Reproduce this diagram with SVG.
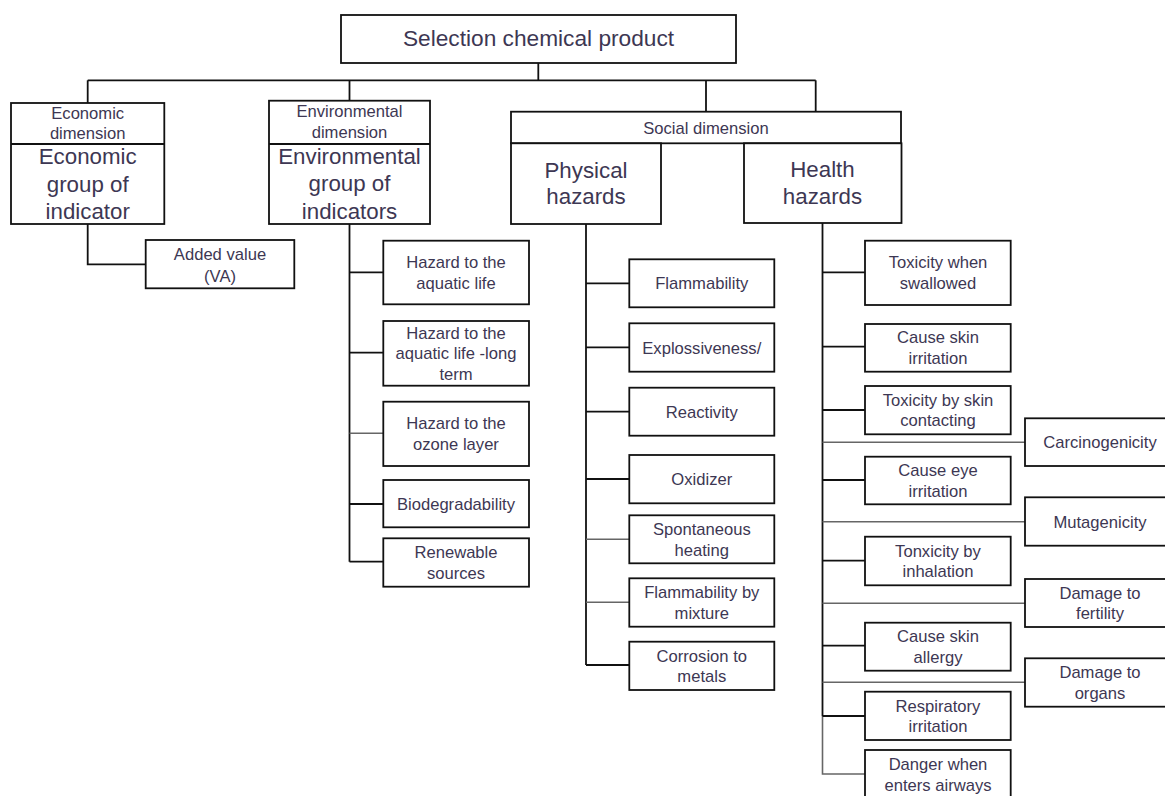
<svg xmlns="http://www.w3.org/2000/svg" width="1165" height="796" viewBox="0 0 1165 796">
<style>
rect{fill:#fff;stroke:#111;stroke-width:1.8}
line,path{stroke:#111;stroke-width:1.8;fill:none}
.g{stroke:#666;stroke-width:1.6}
text{font-family:"Liberation Sans",Arial,sans-serif;fill:#3d3753;text-anchor:middle}
.s{font-size:16.6px}
.l{font-size:22.3px}
</style>
<rect x="0" y="0" width="1165" height="796" style="stroke:none;fill:#fff"/>
<g id="connectors">
<line x1="538.3" y1="63" x2="538.3" y2="80.3"/>
<line x1="87.7" y1="80.3" x2="815.7" y2="80.3"/>
<line x1="87.7" y1="80.3" x2="87.7" y2="103"/>
<line x1="349.5" y1="80.3" x2="349.5" y2="100.7"/>
<line x1="706" y1="80.3" x2="706" y2="111.7"/>
<line x1="815.7" y1="80.3" x2="815.7" y2="111.7"/>
<path d="M87.7 224 V264.3 H145.7"/>
<line x1="349.5" y1="224" x2="349.5" y2="561.7"/>
<line x1="349.5" y1="272.3" x2="383.3" y2="272.3"/>
<line x1="349.5" y1="352.7" x2="383.3" y2="352.7"/>
<line class="g" x1="349.5" y1="433.3" x2="383.3" y2="433.3"/>
<line x1="349.5" y1="504" x2="383.3" y2="504"/>
<line x1="349.5" y1="561.7" x2="383.3" y2="561.7"/>
<line x1="586" y1="224" x2="586" y2="665"/>
<line x1="586" y1="283.3" x2="629.3" y2="283.3"/>
<line x1="586" y1="347.3" x2="629.3" y2="347.3"/>
<line x1="586" y1="411.7" x2="629.3" y2="411.7"/>
<line x1="586" y1="479" x2="629.3" y2="479"/>
<line class="g" x1="586" y1="539.3" x2="629.3" y2="539.3"/>
<line class="g" x1="586" y1="602.3" x2="629.3" y2="602.3"/>
<line x1="586" y1="665" x2="629.3" y2="665"/>
<line x1="822.5" y1="223" x2="822.5" y2="716"/>
<path class="g" d="M822.5 716 V774 H865"/>
<line x1="822.5" y1="272.3" x2="865" y2="272.3"/>
<line x1="822.5" y1="346.7" x2="865" y2="346.7"/>
<line x1="822.5" y1="410" x2="865" y2="410"/>
<line class="g" x1="822.5" y1="442.3" x2="1025" y2="442.3"/>
<line x1="822.5" y1="480" x2="865" y2="480"/>
<line class="g" x1="822.5" y1="521.7" x2="1025" y2="521.7"/>
<line x1="822.5" y1="560.7" x2="865" y2="560.7"/>
<line class="g" x1="822.5" y1="603.3" x2="1025" y2="603.3"/>
<line x1="822.5" y1="645.7" x2="865" y2="645.7"/>
<line class="g" x1="822.5" y1="682.3" x2="1025" y2="682.3"/>
<line x1="822.5" y1="716" x2="865" y2="716"/>
</g>
<g id="root">
<rect x="341" y="15" width="395" height="48"/>
<text class="l" x="538.5" y="46" style="font-size:22.7px">Selection chemical product</text>
</g>
<g id="economic">
<rect x="11" y="103" width="153.3" height="121"/>
<line x1="11" y1="144" x2="164.3" y2="144"/>
<text class="s" x="87.7" y="118.5">Economic</text>
<text class="s" x="87.7" y="138.5">dimension</text>
<text class="l" x="87.7" y="164">Economic</text>
<text class="l" x="87.7" y="191.5">group of</text>
<text class="l" x="87.7" y="219">indicator</text>
</g>
<g id="added-value">
<rect x="145.7" y="240" width="148.6" height="48.3"/>
<text class="s" x="220" y="260">Added value</text>
<text class="s" x="220" y="281.5">(VA)</text>
</g>
<g id="environmental">
<rect x="269" y="100.7" width="161" height="123.3"/>
<line x1="269" y1="144" x2="430" y2="144"/>
<text class="s" x="349.5" y="117">Environmental</text>
<text class="s" x="349.5" y="137.5">dimension</text>
<text class="l" x="349.5" y="163.5">Environmental</text>
<text class="l" x="349.5" y="191">group of</text>
<text class="l" x="349.5" y="218.5">indicators</text>
</g>
<g id="social">
<rect x="511" y="111.7" width="390" height="31.6"/>
<text class="s" x="706" y="133.5">Social dimension</text>
</g>
<g id="physical">
<rect x="511" y="143.3" width="150" height="80.7"/>
<text class="l" x="586" y="178">Physical</text>
<text class="l" x="586" y="204.3">hazards</text>
</g>
<g id="health">
<rect x="744" y="143.3" width="157.5" height="79.7"/>
<text class="l" x="822.5" y="177">Health</text>
<text class="l" x="822.5" y="203.5">hazards</text>
</g>
<g id="env1"><rect x="383.3" y="240.7" width="145.7" height="63.6"/><text class="s" x="456" y="268">Hazard to the</text><text class="s" x="456" y="288.5">aquatic life</text></g>
<g id="env2"><rect x="383.3" y="321" width="145.7" height="64.7"/><text class="s" x="456" y="338.5">Hazard to the</text><text class="s" x="456" y="359">aquatic life -long</text><text class="s" x="456" y="379.5">term</text></g>
<g id="env3"><rect x="383.3" y="401.7" width="145.7" height="64.3"/><text class="s" x="456" y="429">Hazard to the</text><text class="s" x="456" y="449.5">ozone layer</text></g>
<g id="env4"><rect x="383.3" y="480" width="145.7" height="47.3"/><text class="s" x="456" y="509.8">Biodegradability</text></g>
<g id="env5"><rect x="383.3" y="538.3" width="145.7" height="48.4"/><text class="s" x="456" y="558">Renewable</text><text class="s" x="456" y="578.5">sources</text></g>
<g id="phy1"><rect x="629.3" y="259.3" width="145" height="48"/><text class="s" x="701.8" y="289.3">Flammability</text></g>
<g id="phy2"><rect x="629.3" y="323.3" width="145" height="48.4"/><text class="s" x="701.8" y="353.5">Explossiveness/</text></g>
<g id="phy3"><rect x="629.3" y="387.7" width="145" height="48"/><text class="s" x="701.8" y="417.7">Reactivity</text></g>
<g id="phy4"><rect x="629.3" y="455" width="145" height="48.3"/><text class="s" x="701.8" y="485">Oxidizer</text></g>
<g id="phy5"><rect x="629.3" y="515.3" width="145" height="48"/><text class="s" x="701.8" y="535">Spontaneous</text><text class="s" x="701.8" y="555.5">heating</text></g>
<g id="phy6"><rect x="629.3" y="578.3" width="145" height="48.4"/><text class="s" x="701.8" y="598">Flammability by</text><text class="s" x="701.8" y="618.5">mixture</text></g>
<g id="phy7"><rect x="629.3" y="641.7" width="145" height="48.3"/><text class="s" x="701.8" y="661.5">Corrosion to</text><text class="s" x="701.8" y="682">metals</text></g>
<g id="h1"><rect x="865" y="240.7" width="145.7" height="64.3"/><text class="s" x="938" y="268">Toxicity when</text><text class="s" x="938" y="288.5">swallowed</text></g>
<g id="h2"><rect x="865" y="324" width="145.7" height="47.7"/><text class="s" x="938" y="343">Cause skin</text><text class="s" x="938" y="363.5">irritation</text></g>
<g id="h3"><rect x="865" y="386" width="145.7" height="48.3"/><text class="s" x="938" y="405.5">Toxicity by skin</text><text class="s" x="938" y="426">contacting</text></g>
<g id="h4"><rect x="865" y="456.7" width="145.7" height="47.6"/><text class="s" x="938" y="476">Cause eye</text><text class="s" x="938" y="496.5">irritation</text></g>
<g id="h5"><rect x="865" y="536.7" width="145.7" height="48.6"/><text class="s" x="938" y="556.5">Tonxicity by</text><text class="s" x="938" y="577">inhalation</text></g>
<g id="h6"><rect x="865" y="622.7" width="145.7" height="48"/><text class="s" x="938" y="642">Cause skin</text><text class="s" x="938" y="662.5">allergy</text></g>
<g id="h7"><rect x="865" y="691.7" width="145.7" height="48.3"/><text class="s" x="938" y="711.5">Respiratory</text><text class="s" x="938" y="732">irritation</text></g>
<g id="h8"><rect x="865" y="750" width="145.7" height="50"/><text class="s" x="938" y="770">Danger when</text><text class="s" x="938" y="790.5">enters airways</text></g>
<g id="r1"><rect x="1025" y="418.3" width="150" height="47.7"/><text class="s" x="1100" y="448.3">Carcinogenicity</text></g>
<g id="r2"><rect x="1025" y="497.3" width="150" height="48.4"/><text class="s" x="1100" y="527.5">Mutagenicity</text></g>
<g id="r3"><rect x="1025" y="579" width="150" height="48"/><text class="s" x="1100" y="598.5">Damage to</text><text class="s" x="1100" y="619">fertility</text></g>
<g id="r4"><rect x="1025" y="658.3" width="150" height="48.4"/><text class="s" x="1100" y="678">Damage to</text><text class="s" x="1100" y="698.5">organs</text></g>
</svg>
